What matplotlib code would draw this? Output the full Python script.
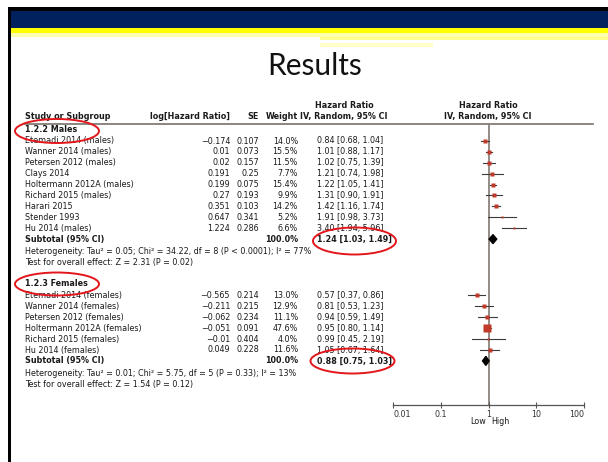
import matplotlib.pyplot as plt
from matplotlib.patches import Rectangle, Ellipse, Polygon

# ---- datos ----
males_names = ['Etemadi 2014 (males)', 'Wanner 2014 (males)', 'Petersen 2012 (males)',
               'Clays 2014', 'Holtermann 2012A (males)', 'Richard 2015 (males)',
               'Harari 2015', 'Stender 1993', 'Hu 2014 (males)']
males_loghr = [-0.174, 0.01, 0.02, 0.191, 0.199, 0.27, 0.351, 0.647, 1.224]
males_se = [0.107, 0.073, 0.157, 0.25, 0.075, 0.193, 0.103, 0.341, 0.286]
males_w = [14.0, 15.5, 11.5, 7.7, 15.4, 9.9, 14.2, 5.2, 6.6]
males_hr = [0.84, 1.01, 1.02, 1.21, 1.22, 1.31, 1.42, 1.91, 3.40]
males_lo = [0.68, 0.88, 0.75, 0.74, 1.05, 0.90, 1.16, 0.98, 1.94]
males_hi = [1.04, 1.17, 1.39, 1.98, 1.41, 1.91, 1.74, 3.73, 5.96]
males_sub = (1.24, 1.03, 1.49)
males_het = 'Heterogeneity: Tau² = 0.05; Chi² = 34.22, df = 8 (P < 0.0001); I² = 77%'
males_test = 'Test for overall effect: Z = 2.31 (P = 0.02)'

females_names = ['Etemadi 2014 (females)', 'Wanner 2014 (females)', 'Petersen 2012 (females)',
                 'Holtermann 2012A (females)', 'Richard 2015 (females)', 'Hu 2014 (females)']
females_loghr = [-0.565, -0.211, -0.062, -0.051, -0.01, 0.049]
females_se = [0.214, 0.215, 0.234, 0.091, 0.404, 0.228]
females_w = [13.0, 12.9, 11.1, 47.6, 4.0, 11.6]
females_hr = [0.57, 0.81, 0.94, 0.95, 0.99, 1.05]
females_lo = [0.37, 0.53, 0.59, 0.80, 0.45, 0.67]
females_hi = [0.86, 1.23, 1.49, 1.14, 2.19, 1.64]
females_sub = (0.88, 0.75, 1.03)
females_het = 'Heterogeneity: Tau² = 0.01; Chi² = 5.75, df = 5 (P = 0.33); I² = 13%'
females_test = 'Test for overall effect: Z = 1.54 (P = 0.12)'

ticks = [0.01, 0.1, 1, 10, 100]
tick_labels = ['0.01', '0.1', '1', '10', '100']

W, H = 608, 462
fig = plt.figure(figsize=(W / 100, H / 100), dpi=100)
fig.patch.set_facecolor('white')

# fondo de la diapositiva, en pixeles
ax0 = fig.add_axes([0, 0, 1, 1])
ax0.set_xlim(0, W)
ax0.set_ylim(H, 0)
ax0.axis('off')

ax0.add_patch(Rectangle((8, 7), W - 8, 3.5, color='black', lw=0))
ax0.add_patch(Rectangle((8, 7), 3, H - 7, color='black', lw=0))
ax0.add_patch(Rectangle((11, 10.5), W - 11, 17, color='#00205e', lw=0))
ax0.add_patch(Rectangle((11, 27.5), W - 11, 5.5, color='#ffff00', lw=0))
ax0.add_patch(Rectangle((11, 33), W - 11, 4, color='#ffffb0', lw=0))
ax0.add_patch(Rectangle((320, 37), W - 320, 3, color='#ffff90', lw=0))
ax0.add_patch(Rectangle((320, 43), 113, 4, color='#ffffc8', lw=0))

ax0.text(315, 66, 'Results', fontsize=21.5, family='Lato', ha='center', va='center',
         color='#111111')

fs = 5.8
font = dict(family='DejaVu Sans', fontsize=fs, color='#1a1a1a', va='center')
bold = dict(font, fontweight='bold')


def num(v):
    return str(v).replace('-', '−')


# cabeceras
ax0.text(25, 116.5, 'Study or Subgroup', ha='left', **bold)
ax0.text(230, 116.5, 'log[Hazard Ratio]', ha='right', **bold)
ax0.text(259, 116.5, 'SE', ha='right', **bold)
ax0.text(298, 116.5, 'Weight', ha='right', **bold)
ax0.text(344, 106, 'Hazard Ratio', ha='center', **bold)
ax0.text(344, 116.5, 'IV, Random, 95% CI', ha='center', **bold)
ax0.text(488, 106, 'Hazard Ratio', ha='center', **bold)
ax0.text(488, 116.5, 'IV, Random, 95% CI', ha='center', **bold)
ax0.plot([25, 593], [123.5, 123.5], color='#77716c', lw=1.2)

# eje del forest plot, y en pixeles
ax = fig.add_axes([393 / W, (H - 405) / H, (584 - 393) / W, (405 - 123.5) / H])
ax.set_facecolor('none')
ax.set_xscale('log')
ax.set_xlim(0.01, 100)
ax.set_ylim(405, 123.5)
for s in ['top', 'left', 'right']:
    ax.spines[s].set_visible(False)
ax.spines['bottom'].set_color('#555555')
ax.spines['bottom'].set_linewidth(0.9)
ax.set_yticks([])
ax.set_xticks(ticks)
ax.set_xticklabels(tick_labels)
ax.minorticks_off()
ax.tick_params(axis='x', direction='inout', length=4, width=0.8, color='#555555',
               labelsize=5.8, labelcolor='#333333', pad=1.5)
labs = ax.get_xticklabels()
labs[0].set_horizontalalignment('left')
labs[-1].set_horizontalalignment('right')
ax.axvline(1, color='#8a827d', lw=1.3, zorder=1)

ax0.text(486, 422, 'Low', ha='right', **font)
ax0.text(491, 422, 'High', ha='left', **font)


def grupo(titulo, y_tit, y0, names, loghr, se, w, hr, lo, hi, sub, het, test, y_het):
    ax0.text(25, y_tit, titulo, ha='left', **bold)
    step = 10.9
    for i in range(len(names)):
        y = y0 + i * step
        ax0.text(25, y, names[i], ha='left', **font)
        ax0.text(230, y, num(loghr[i]), ha='right', **font)
        ax0.text(259, y, num(se[i]), ha='right', **font)
        ax0.text(298, y, f'{w[i]:.1f}%', ha='right', **font)
        ax0.text(317, y, f'{hr[i]:.2f} [{lo[i]:.2f}, {hi[i]:.2f}]', ha='left', **font)
        ax.plot([lo[i], hi[i]], [y, y], color='#3a3a3a', lw=0.8, zorder=2)
        ax.plot(hr[i], y, 's', color='#c0392b', mec='none',
                ms=5.6 * (w[i] / 47.6) ** 0.5, zorder=3)
    ys = y0 + len(names) * step
    ax0.text(25, ys, 'Subtotal (95% CI)', ha='left', **bold)
    ax0.text(298, ys, '100.0%', ha='right', **bold)
    ax0.text(317, ys, f'{sub[0]:.2f} [{sub[1]:.2f}, {sub[2]:.2f}]', ha='left', **bold)
    ax.add_patch(Polygon([(sub[1], ys), (sub[0], ys - 4.5), (sub[2], ys), (sub[0], ys + 4.5)],
                         closed=True, color='black', zorder=3))
    ax0.text(25, y_het, het, ha='left', **font)
    ax0.text(25, y_het + 11, test, ha='left', **font)
    return ys


ys_m = grupo('1.2.2 Males', 129, 141, males_names, males_loghr, males_se, males_w,
             males_hr, males_lo, males_hi, males_sub, males_het, males_test, 251)
ys_f = grupo('1.2.3 Females', 283.5, 295.5, females_names, females_loghr, females_se,
             females_w, females_hr, females_lo, females_hi, females_sub, females_het,
             females_test, 373)

# elipses rojas
rojo = '#e3161b'
for cx, cy, ew, eh in [(57, 131, 84, 24), (57, 284, 84, 23),
                       (354.5, 241, 83, 27), (352.5, 361, 84, 25)]:
    ax0.add_patch(Ellipse((cx, cy), ew, eh, fill=False, ec=rojo, lw=1.4, zorder=5))

fig.savefig('out.png', dpi=100)
